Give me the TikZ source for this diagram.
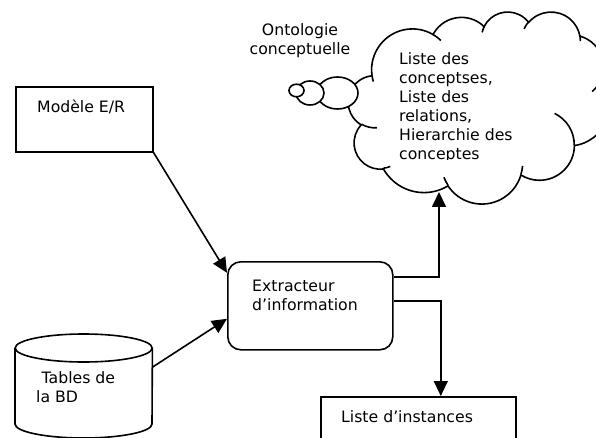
\documentclass[tikz,border=0pt]{standalone}
\usepackage{fontspec}
\setmainfont{DejaVu Sans}
\usetikzlibrary{arrows.meta}

% Turn a DrawingML-style arc (visual start angle, sweep) into parametric
% start/end angles stored as \cld<name>s and \cld<name>e.
\newcommand\cldangles[5]{%
  \pgfmathsetmacro\cldtmpa{#4}%
  \pgfmathsetmacro\cldtmpb{#4+#5}%
  \pgfmathsetmacro\cldtmpc{atan2((#2)*sin(\cldtmpa),(#3)*cos(\cldtmpa))}%
  \pgfmathsetmacro\cldtmpc{\cldtmpc+360*round((\cldtmpa-\cldtmpc)/360)}%
  \pgfmathsetmacro\cldtmpd{atan2((#2)*sin(\cldtmpb),(#3)*cos(\cldtmpb))}%
  \pgfmathsetmacro\cldtmpd{\cldtmpd+360*round((\cldtmpb-\cldtmpd)/360)}%
  \expandafter\xdef\csname cld#1s\endcsname{\cldtmpc}%
  \expandafter\xdef\csname cld#1e\endcsname{\cldtmpd}%
}
% outline lobes
\cldangles{A}{67.53}{91.90}{-190.4875}{123.7805}
\cldangles{B}{53.33}{72.67}{-144.1024}{89.9452}
\cldangles{C}{43.65}{59.45}{-145.8079}{99.7230}
\cldangles{D}{48.57}{65.95}{-130.9861}{117.2417}
\cldangles{E}{53.33}{72.73}{-78.7089}{109.0269}
\cldangles{F}{67.75}{92.20}{-46.2673}{130.2690}
\cldangles{G}{57.85}{78.67}{0.6250}{114.0333}
\cldangles{H}{67.52}{92.15}{22.4516}{115.1726}
\cldangles{I}{77.20}{105.43}{66.2426}{75.7110}
\cldangles{J}{43.60}{59.18}{-274.9421}{146.7356}
\cldangles{K}{43.45}{59.45}{-246.8285}{152.5189}
% inner lobe strokes
\cldangles{a}{43.45}{59.45}{86.7420}{26.4295}
\cldangles{b}{43.60}{59.18}{73.6105}{11.4475}
\cldangles{c}{67.52}{92.15}{137.6242}{14.0811}
\cldangles{d}{67.52}{92.15}{6.4533}{15.9984}
\cldangles{e}{57.85}{78.67}{-70.2924}{70.9174}
\cldangles{f}{53.33}{72.73}{30.3180}{27.7515}
\cldangles{g}{48.57}{65.95}{-13.7443}{14.8589}
\cldangles{h}{48.57}{65.95}{-149.1815}{18.1954}
\cldangles{i}{43.65}{59.45}{-163.4943}{17.6864}
\cldangles{j}{67.53}{91.90}{-66.7070}{12.3194}
\cldangles{k}{67.53}{91.90}{157.6544}{11.8582}

\tikzset{
  stroke/.style={draw=black, line width=1.6pt},
  boxnode/.style={stroke, inner sep=0pt, anchor=north west},
  lbl/.style={font=\fontsize{15.7}{19}\selectfont, inner sep=0pt,
              anchor=base west, align=left},
  conn/.style={line width=1.6pt, -{Triangle[length=15pt,width=14pt]}},
}

\begin{document}
\begin{tikzpicture}[x=1pt, y=-1pt]
\useasboundingbox (0,0) rectangle (596,438);
\clip (0,0) rectangle (596,438);

% ---- cloud ----
\begin{scope}[shift={(348.4pt,-11.4pt)}, x=0.6042pt, y=-0.4444pt]
  \draw[stroke, fill=white] (39.00,143.70)
    arc[x radius=67.53, y radius=91.90, start angle=\cldAs, end angle=\cldAe]
    arc[x radius=53.33, y radius=72.67, start angle=\cldBs, end angle=\cldBe]
    arc[x radius=43.65, y radius=59.45, start angle=\cldCs, end angle=\cldCe]
    arc[x radius=48.57, y radius=65.95, start angle=\cldDs, end angle=\cldDe]
    arc[x radius=53.33, y radius=72.73, start angle=\cldEs, end angle=\cldEe]
    arc[x radius=67.75, y radius=92.20, start angle=\cldFs, end angle=\cldFe]
    arc[x radius=57.85, y radius=78.67, start angle=\cldGs, end angle=\cldGe]
    arc[x radius=67.52, y radius=92.15, start angle=\cldHs, end angle=\cldHe]
    arc[x radius=77.20, y radius=105.43, start angle=\cldIs, end angle=\cldIe]
    arc[x radius=43.60, y radius=59.18, start angle=\cldJs, end angle=\cldJe]
    arc[x radius=43.45, y radius=59.45, start angle=\cldKs, end angle=\cldKe]
    -- cycle;
  \draw[stroke]
    (46.93,261.77) arc[x radius=43.45, y radius=59.45, start angle=\cldas, end angle=\cldae]
    (69.28,348.99) arc[x radius=43.60, y radius=59.18, start angle=\cldbs, end angle=\cldbe]
    (164.78,390.90) arc[x radius=67.52, y radius=92.15, start angle=\cldcs, end angle=\cldce]
    (288.27,347.51) arc[x radius=67.52, y radius=92.15, start angle=\cldds, end angle=\cldde]
    (341.29,229.54) arc[x radius=57.85, y radius=78.67, start angle=\cldes, end angle=\cldee]
    (417.98,153.54) arc[x radius=53.33, y radius=72.73, start angle=\cldfs, end angle=\cldfe]
    (383.24,54.26) arc[x radius=48.57, y radius=65.95, start angle=\cldgs, end angle=\cldge]
    (290.78,39.52) arc[x radius=48.57, y radius=65.95, start angle=\cldhs, end angle=\cldhe]
    (221.41,47.20) arc[x radius=43.65, y radius=59.45, start angle=\cldis, end angle=\cldie]
    (140.00,51.92) arc[x radius=67.53, y radius=91.90, start angle=\cldjs, end angle=\cldje]
    (41.27,157.89) arc[x radius=67.53, y radius=91.90, start angle=\cldks, end angle=\cldke];
\end{scope}

% thought bubbles of the callout
\draw[stroke, fill=white] (337.5,93) ellipse[x radius=20.5, y radius=16];
\draw[stroke, fill=white] (310,93) ellipse[x radius=14, y radius=12];
\draw[stroke, fill=white] (296.5,90.5) ellipse[x radius=7.5, y radius=6.3];

% cloud contents, cut at the lower edge of its text area
\begin{scope}
  \clip (380,40) rectangle (570,159.3);
  \node[lbl] (cloudtxt) at (399,160)
    {Liste des\\conceptses,\\Liste des\\relations,\\Hierarchie des\\conceptes};
\end{scope}
\node[lbl, align=center, anchor=base] (ontotxt) at (300,55) {Ontologie\\conceptuelle};

% ---- boxes ----
\node[boxnode, minimum width=137pt, minimum height=65pt] (modele) at (15,86) {};
\node[lbl] (modeletxt) at (37,113) {Modèle E/R};

\node[boxnode, rounded corners=13pt, minimum width=165pt, minimum height=88pt] (extr) at (227,261) {};
\node[lbl] (extrtxt) at (252,310) {Extracteur\\d’information};

\node[boxnode, minimum width=195pt, minimum height=70pt] (inst) at (320,396) {};
\node[lbl] (insttxt) at (341,422) {Liste d’instances};

% database cylinder
\node[inner sep=0pt, minimum width=137pt, minimum height=90pt, anchor=north west] (db) at (15,348) {};
\draw[stroke] (db.north west) -- ++(0,76)
  arc[start angle=180, end angle=0, x radius=68.5, y radius=14] -- (db.north east);
\draw[stroke] (db.north) ellipse[x radius=68.5, y radius=14];
\node[lbl] (dbtxt) at (36,402) {\hspace*{5.5pt}Tables de\\la BD};

% ---- connectors ----
\coordinate (cloudfoot) at (439,192);
\draw[conn] (modele.south east) -- ([yshift=33pt]extr.west);
\draw[conn] ([yshift=26pt]db.east) -- ([yshift=-13pt]extr.west);
\draw[conn] ([yshift=29pt]extr.east) -| (cloudfoot);
\draw[conn] ([yshift=5pt]extr.east) -| ([xshift=22.5pt]inst.north);
\end{tikzpicture}
\end{document}
